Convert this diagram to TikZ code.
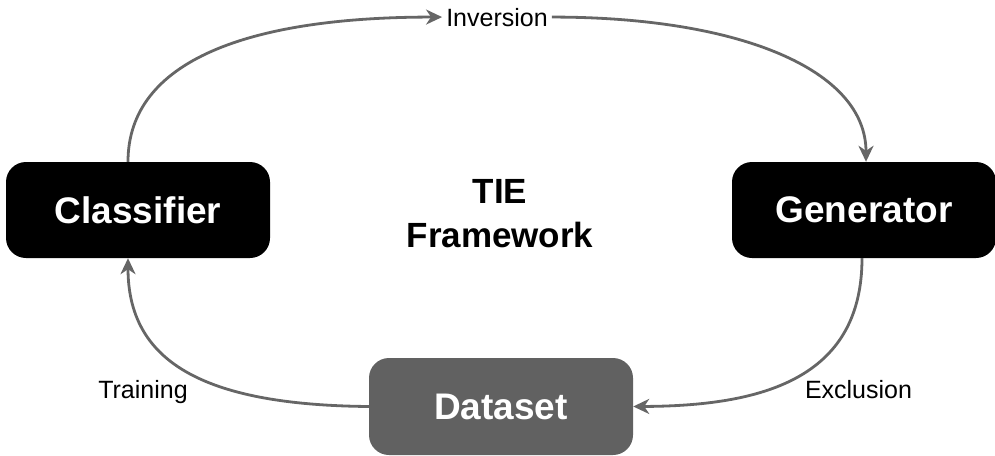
\documentclass[tikz,border=0pt]{standalone}
\usepackage{fontspec}
\setmainfont{Liberation Sans}
\usetikzlibrary{arrows.meta}
\definecolor{linegray}{HTML}{666666}
\definecolor{datagray}{HTML}{616161}
\begin{document}
\begin{tikzpicture}[x=1pt,y=-1pt,
  block/.style={rectangle, rounded corners=20pt, minimum width=264pt,
    minimum height=96pt, inner sep=0pt, text=white,
    font=\fontsize{37}{43}\selectfont\bfseries},
  lbl/.style={inner sep=4pt, font=\fontsize{25}{30}\selectfont},
  flow/.style={draw=linegray, line width=2.8pt,
    -{Stealth[length=16pt, width=15pt, inset=5pt]}}]
  \useasboundingbox (0,0) rectangle (995,455);

  % blocks
  \node[block, fill=black] (cls) at (138,210) {Classifier};
  \node[block, fill=black] (gen) at (864,210) {Generator};
  \node[block, fill=datagray, minimum height=97pt] (data) at (501,406.5) {Dataset};

  % title
  \node[align=center, font=\fontsize{35}{44}\selectfont\bfseries] (title)
    at (500,213.5) {TIE\\Framework};

  % edge labels
  \node[lbl, anchor=base] (inv) at (497,26) {Inversion};
  \node[lbl, anchor=base] (train) at (143,398) {Training};
  \node[lbl, anchor=base] (excl) at (858.5,398) {Exclusion};

  % connectors
  \coordinate (clstop) at ([xshift=-10pt]cls.north);
  \coordinate (clsbot) at ([xshift=-10pt]cls.south);
  \coordinate (gentop) at ([xshift=2pt]gen.north);
  \coordinate (genbot) at ([xshift=-2pt]gen.south);

  \path[flow] (clstop) .. controls (128,60) and (250,17) .. (inv.west);
  \path[flow] (inv.east) .. controls (740,17) and (866,70) .. (gentop);
  \path[flow] (genbot) .. controls (862,380) and (760,406) .. (data.east);
  \path[flow] (data.west) .. controls (200,405) and (128,360) .. (clsbot);
\end{tikzpicture}
\end{document}
